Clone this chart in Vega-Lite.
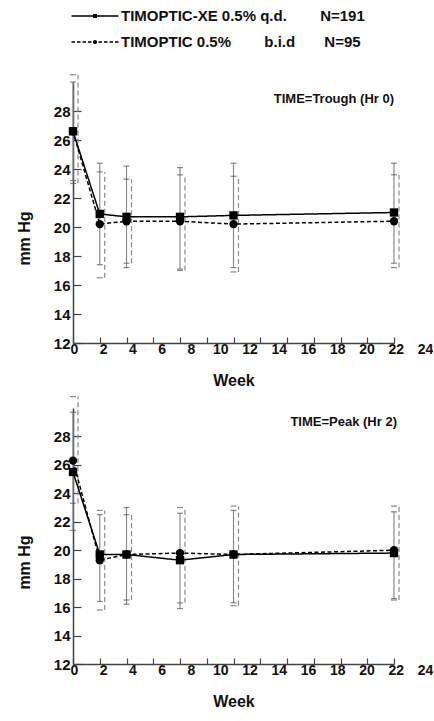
{
  "$schema": "https://vega.github.io/schema/vega-lite/v6.json",
  "padding": {"left": 16, "top": 5, "right": 0, "bottom": 0},
  "background": "white",
  "spacing": 8,
  "datasets": {
    "iop": [
      {"time": "Trough", "treatment": "XE", "week": 0, "mean": 26.6, "lower": 23.2, "upper": 30.0},
      {"time": "Trough", "treatment": "XE", "week": 2, "mean": 20.9, "lower": 17.4, "upper": 24.4},
      {"time": "Trough", "treatment": "XE", "week": 4, "mean": 20.7, "lower": 17.2, "upper": 24.2},
      {"time": "Trough", "treatment": "XE", "week": 8, "mean": 20.7, "lower": 17.1, "upper": 24.1},
      {"time": "Trough", "treatment": "XE", "week": 12, "mean": 20.8, "lower": 17.2, "upper": 24.4},
      {"time": "Trough", "treatment": "XE", "week": 24, "mean": 21.0, "lower": 17.5, "upper": 24.4},
      {"time": "Trough", "treatment": "TIM", "week": 0, "mean": 26.6, "lower": 23.0, "upper": 30.5},
      {"time": "Trough", "treatment": "TIM", "week": 2, "mean": 20.2, "lower": 16.5, "upper": 23.8},
      {"time": "Trough", "treatment": "TIM", "week": 4, "mean": 20.4, "lower": 17.5, "upper": 23.3},
      {"time": "Trough", "treatment": "TIM", "week": 8, "mean": 20.4, "lower": 17.0, "upper": 23.6},
      {"time": "Trough", "treatment": "TIM", "week": 12, "mean": 20.2, "lower": 16.9, "upper": 23.5},
      {"time": "Trough", "treatment": "TIM", "week": 24, "mean": 20.4, "lower": 17.2, "upper": 23.6},
      {"time": "Peak", "treatment": "XE", "week": 0, "mean": 25.5, "lower": 21.4, "upper": 29.7},
      {"time": "Peak", "treatment": "XE", "week": 2, "mean": 19.7, "lower": 16.4, "upper": 22.5},
      {"time": "Peak", "treatment": "XE", "week": 4, "mean": 19.7, "lower": 16.2, "upper": 23.0},
      {"time": "Peak", "treatment": "XE", "week": 8, "mean": 19.3, "lower": 15.9, "upper": 22.6},
      {"time": "Peak", "treatment": "XE", "week": 12, "mean": 19.7, "lower": 16.3, "upper": 22.8},
      {"time": "Peak", "treatment": "XE", "week": 24, "mean": 19.8, "lower": 16.6, "upper": 22.7},
      {"time": "Peak", "treatment": "TIM", "week": 0, "mean": 26.3, "lower": 23.3, "upper": 30.8},
      {"time": "Peak", "treatment": "TIM", "week": 2, "mean": 19.3, "lower": 15.8, "upper": 22.8},
      {"time": "Peak", "treatment": "TIM", "week": 4, "mean": 19.7, "lower": 16.5, "upper": 22.5},
      {"time": "Peak", "treatment": "TIM", "week": 8, "mean": 19.8, "lower": 16.3, "upper": 23.0},
      {"time": "Peak", "treatment": "TIM", "week": 12, "mean": 19.7, "lower": 16.1, "upper": 23.1},
      {"time": "Peak", "treatment": "TIM", "week": 24, "mean": 20.0, "lower": 16.5, "upper": 23.1}
    ],
    "notes": [
      {"time": "Trough", "note": "TIME=Trough (Hr 0)"},
      {"time": "Peak", "note": "TIME=Peak (Hr 2)"}
    ]
  },
  "vconcat": [
    {
      "width": 321,
      "height": 261,
      "data": {"name": "iop"},
      "transform": [{"filter": "datum.time == 'Trough'"}],
      "layer": [
        {
          "transform": [{"filter": "datum.week < 0"}],
          "mark": {"type": "point", "filled": true, "color": "black", "size": 400},
          "encoding": {
            "x": {"field": "week", "type": "quantitative", "title": "Week", "scale": {"domain": [0, 24], "nice": false, "zero": false},
              "axis": {"values": [0, 2, 4, 6, 8, 10, 12, 14, 16, 18, 20, 22, 24], "labelOverlap": false, "labelOffset": {"expr": "1 + 1.25 * datum.value"}}},
            "y": {"field": "mean", "type": "quantitative", "title": "mm Hg", "scale": {"domain": [12, 30], "nice": false, "zero": false},
              "axis": {"values": [12, 14, 16, 18, 20, 22, 24, 26, 28], "labelOverlap": false, "titleY": 156}},
            "shape": {
              "field": "treatment", "type": "nominal",
              "scale": {"domain": ["XE", "TIM"], "range": [
                "M-2.35,-0.075H-0.18V0.075H-2.35ZM0.18,-0.075H2.35V0.075H0.18ZM-0.2,-0.2H0.2V0.2H-0.2Z",
                "M-2.35,-0.07H-2.0V0.07H-2.35ZM-1.8,-0.07H-1.45V0.07H-1.8ZM-1.25,-0.07H-0.9V0.07H-1.25ZM-0.7,-0.07H-0.35V0.07H-0.7ZM0.35,-0.07H0.7V0.07H0.35ZM0.9,-0.07H1.25V0.07H0.9ZM1.45,-0.07H1.8V0.07H1.45ZM2.0,-0.07H2.35V0.07H2.0ZM-0.21,0A0.21,0.21 0 1,1 0.21,0A0.21,0.21 0 1,1 -0.21,0Z"
              ]},
              "legend": {
                "title": null,
                "orient": "none",
                "legendX": 11,
                "legendY": -77,
                "direction": "vertical",
                "padding": 0,
                "symbolSize": 400,
                "symbolFillColor": "black",
                "symbolOpacity": 1,
                "labelFont": "Liberation Sans",
                "labelFontSize": 15,
                "labelFontWeight": "bold",
                "labelColor": "#111",
                "labelOffset": 15,
                "labelLimit": 0,
                "rowPadding": 7,
                "labelExpr": "datum.value == 'XE' ? 'TIMOPTIC-XE 0.5% q.d.\u00a0\u00a0\u00a0\u00a0\u00a0\u00a0\u00a0\u00a0N=191' : 'TIMOPTIC 0.5%\u00a0\u00a0\u00a0\u00a0\u00a0\u00a0\u00a0\u00a0b.i.d\u00a0\u00a0\u00a0\u00a0\u00a0\u00a0\u00a0N=95'"
              }
            }
          }
        },
        {
          "transform": [{"filter": "datum.treatment == 'XE'"}],
          "mark": {"type": "rule", "color": "#8a8a8a", "strokeWidth": 1.2},
          "encoding": {
            "x": {"field": "week", "type": "quantitative", "title": "Week", "axis": {"values": [0, 2, 4, 6, 8, 10, 12, 14, 16, 18, 20, 22, 24], "labelOverlap": false, "labelOffset": {"expr": "1 + 1.25 * datum.value"}}},
            "y": {"field": "lower", "type": "quantitative", "title": "mm Hg", "axis": {"values": [12, 14, 16, 18, 20, 22, 24, 26, 28], "labelOverlap": false, "titleY": 156}},
            "y2": {"field": "upper"}
          }
        },
        {
          "transform": [{"filter": "datum.treatment == 'TIM'"}],
          "mark": {"type": "rule", "color": "#8a8a8a", "strokeWidth": 1.2, "strokeDash": [5, 3], "xOffset": 5},
          "encoding": {
            "x": {"field": "week", "type": "quantitative", "title": "Week", "axis": {"values": [0, 2, 4, 6, 8, 10, 12, 14, 16, 18, 20, 22, 24], "labelOverlap": false, "labelOffset": {"expr": "1 + 1.25 * datum.value"}}},
            "y": {"field": "lower", "type": "quantitative", "title": "mm Hg", "axis": {"values": [12, 14, 16, 18, 20, 22, 24, 26, 28], "labelOverlap": false, "titleY": 156}},
            "y2": {"field": "upper"}
          }
        },
        {
          "transform": [{"fold": ["lower", "upper"], "as": ["bound", "value"]}],
          "mark": {"type": "tick", "orient": "horizontal", "size": 6, "thickness": 1.2, "color": "#555"},
          "encoding": {
            "x": {"field": "week", "type": "quantitative", "title": "Week", "axis": {"values": [0, 2, 4, 6, 8, 10, 12, 14, 16, 18, 20, 22, 24], "labelOverlap": false, "labelOffset": {"expr": "1 + 1.25 * datum.value"}}},
            "y": {"field": "value", "type": "quantitative", "title": "mm Hg", "axis": {"values": [12, 14, 16, 18, 20, 22, 24, 26, 28], "labelOverlap": false, "titleY": 156}},
            "xOffset": {"condition": {"test": "datum.treatment == 'TIM'", "value": 5}, "value": 0}
          }
        },
        {
          "mark": {"type": "line", "color": "black", "strokeWidth": 1.5},
          "encoding": {
            "x": {"field": "week", "type": "quantitative", "title": "Week", "axis": {"values": [0, 2, 4, 6, 8, 10, 12, 14, 16, 18, 20, 22, 24], "labelOverlap": false, "labelOffset": {"expr": "1 + 1.25 * datum.value"}}},
            "y": {"field": "mean", "type": "quantitative", "title": "mm Hg", "axis": {"values": [12, 14, 16, 18, 20, 22, 24, 26, 28], "labelOverlap": false, "titleY": 156}},
            "detail": {"field": "treatment"},
            "strokeDash": {"field": "treatment", "type": "nominal", "scale": {"domain": ["XE", "TIM"], "range": [[1, 0], [4, 2.5]]}, "legend": null}
          }
        },
        {
          "transform": [{"filter": "datum.treatment == 'TIM'"}],
          "mark": {"type": "circle", "color": "black", "opacity": 1, "size": 70},
          "encoding": {
            "x": {"field": "week", "type": "quantitative", "title": "Week", "axis": {"values": [0, 2, 4, 6, 8, 10, 12, 14, 16, 18, 20, 22, 24], "labelOverlap": false, "labelOffset": {"expr": "1 + 1.25 * datum.value"}}},
            "y": {"field": "mean", "type": "quantitative", "title": "mm Hg", "axis": {"values": [12, 14, 16, 18, 20, 22, 24, 26, 28], "labelOverlap": false, "titleY": 156}}
          }
        },
        {
          "transform": [{"filter": "datum.treatment == 'XE'"}],
          "mark": {"type": "square", "color": "black", "opacity": 1, "size": 70},
          "encoding": {
            "x": {"field": "week", "type": "quantitative", "title": "Week", "axis": {"values": [0, 2, 4, 6, 8, 10, 12, 14, 16, 18, 20, 22, 24], "labelOverlap": false, "labelOffset": {"expr": "1 + 1.25 * datum.value"}}},
            "y": {"field": "mean", "type": "quantitative", "title": "mm Hg", "axis": {"values": [12, 14, 16, 18, 20, 22, 24, 26, 28], "labelOverlap": false, "titleY": 156}}
          }
        },
        {
          "data": {"name": "notes"},
          "transform": [{"filter": "datum.time == 'Trough'"}],
          "mark": {"type": "text", "align": "right", "baseline": "middle", "font": "Liberation Sans", "fontSize": 13, "fontWeight": "bold", "color": "#111"},
          "encoding": {
            "x": {"datum": 24, "type": "quantitative", "title": "Week", "axis": {"values": [0, 2, 4, 6, 8, 10, 12, 14, 16, 18, 20, 22, 24], "labelOverlap": false, "labelOffset": {"expr": "1 + 1.25 * datum.value"}}},
            "y": {"datum": 28.8, "type": "quantitative", "title": "mm Hg", "axis": {"values": [12, 14, 16, 18, 20, 22, 24, 26, 28], "labelOverlap": false, "titleY": 156}},
            "text": {"field": "note"}
          }
        }
      ]
    },
    {
      "width": 321,
      "height": 256,
      "data": {"name": "iop"},
      "transform": [{"filter": "datum.time == 'Peak'"}],
      "layer": [
        {
          "transform": [{"filter": "datum.treatment == 'XE'"}],
          "mark": {"type": "rule", "color": "#8a8a8a", "strokeWidth": 1.2},
          "encoding": {
            "x": {"field": "week", "type": "quantitative", "title": "Week", "scale": {"domain": [0, 24], "nice": false, "zero": false},
              "axis": {"values": [0, 2, 4, 6, 8, 10, 12, 14, 16, 18, 20, 22, 24], "labelOverlap": false, "labelOffset": {"expr": "1 + 1.25 * datum.value"}}},
            "y": {"field": "lower", "type": "quantitative", "title": "mm Hg", "scale": {"domain": [12, 30], "nice": false, "zero": false},
              "axis": {"values": [12, 14, 16, 18, 20, 22, 24, 26, 28], "labelOverlap": false, "titleY": 154}},
            "y2": {"field": "upper"}
          }
        },
        {
          "transform": [{"filter": "datum.treatment == 'TIM'"}],
          "mark": {"type": "rule", "color": "#8a8a8a", "strokeWidth": 1.2, "strokeDash": [5, 3], "xOffset": 5},
          "encoding": {
            "x": {"field": "week", "type": "quantitative", "title": "Week", "axis": {"values": [0, 2, 4, 6, 8, 10, 12, 14, 16, 18, 20, 22, 24], "labelOverlap": false, "labelOffset": {"expr": "1 + 1.25 * datum.value"}}},
            "y": {"field": "lower", "type": "quantitative", "title": "mm Hg", "axis": {"values": [12, 14, 16, 18, 20, 22, 24, 26, 28], "labelOverlap": false, "titleY": 154}},
            "y2": {"field": "upper"}
          }
        },
        {
          "transform": [{"fold": ["lower", "upper"], "as": ["bound", "value"]}],
          "mark": {"type": "tick", "orient": "horizontal", "size": 6, "thickness": 1.2, "color": "#555"},
          "encoding": {
            "x": {"field": "week", "type": "quantitative", "title": "Week", "axis": {"values": [0, 2, 4, 6, 8, 10, 12, 14, 16, 18, 20, 22, 24], "labelOverlap": false, "labelOffset": {"expr": "1 + 1.25 * datum.value"}}},
            "y": {"field": "value", "type": "quantitative", "title": "mm Hg", "axis": {"values": [12, 14, 16, 18, 20, 22, 24, 26, 28], "labelOverlap": false, "titleY": 154}},
            "xOffset": {"condition": {"test": "datum.treatment == 'TIM'", "value": 5}, "value": 0}
          }
        },
        {
          "mark": {"type": "line", "color": "black", "strokeWidth": 1.5},
          "encoding": {
            "x": {"field": "week", "type": "quantitative", "title": "Week", "axis": {"values": [0, 2, 4, 6, 8, 10, 12, 14, 16, 18, 20, 22, 24], "labelOverlap": false, "labelOffset": {"expr": "1 + 1.25 * datum.value"}}},
            "y": {"field": "mean", "type": "quantitative", "title": "mm Hg", "axis": {"values": [12, 14, 16, 18, 20, 22, 24, 26, 28], "labelOverlap": false, "titleY": 154}},
            "detail": {"field": "treatment"},
            "strokeDash": {"field": "treatment", "type": "nominal", "scale": {"domain": ["XE", "TIM"], "range": [[1, 0], [4, 2.5]]}, "legend": null}
          }
        },
        {
          "transform": [{"filter": "datum.treatment == 'TIM'"}],
          "mark": {"type": "circle", "color": "black", "opacity": 1, "size": 70},
          "encoding": {
            "x": {"field": "week", "type": "quantitative", "title": "Week", "axis": {"values": [0, 2, 4, 6, 8, 10, 12, 14, 16, 18, 20, 22, 24], "labelOverlap": false, "labelOffset": {"expr": "1 + 1.25 * datum.value"}}},
            "y": {"field": "mean", "type": "quantitative", "title": "mm Hg", "axis": {"values": [12, 14, 16, 18, 20, 22, 24, 26, 28], "labelOverlap": false, "titleY": 154}}
          }
        },
        {
          "transform": [{"filter": "datum.treatment == 'XE'"}],
          "mark": {"type": "square", "color": "black", "opacity": 1, "size": 70},
          "encoding": {
            "x": {"field": "week", "type": "quantitative", "title": "Week", "axis": {"values": [0, 2, 4, 6, 8, 10, 12, 14, 16, 18, 20, 22, 24], "labelOverlap": false, "labelOffset": {"expr": "1 + 1.25 * datum.value"}}},
            "y": {"field": "mean", "type": "quantitative", "title": "mm Hg", "axis": {"values": [12, 14, 16, 18, 20, 22, 24, 26, 28], "labelOverlap": false, "titleY": 154}}
          }
        },
        {
          "data": {"name": "notes"},
          "transform": [{"filter": "datum.time == 'Peak'"}],
          "mark": {"type": "text", "align": "right", "baseline": "middle", "dx": 3, "font": "Liberation Sans", "fontSize": 13, "fontWeight": "bold", "color": "#111"},
          "encoding": {
            "x": {"datum": 24, "type": "quantitative", "title": "Week", "axis": {"values": [0, 2, 4, 6, 8, 10, 12, 14, 16, 18, 20, 22, 24], "labelOverlap": false, "labelOffset": {"expr": "1 + 1.25 * datum.value"}}},
            "y": {"datum": 29.0, "type": "quantitative", "title": "mm Hg", "axis": {"values": [12, 14, 16, 18, 20, 22, 24, 26, 28], "labelOverlap": false, "titleY": 154}},
            "text": {"field": "note"}
          }
        }
      ]
    }
  ],
  "config": {
    "view": {"stroke": null},
    "axis": {
      "grid": false,
      "domainColor": "#444",
      "domainWidth": 1.5,
      "tickColor": "#444",
      "tickWidth": 1.2,
      "labelFont": "Liberation Sans",
      "labelFontWeight": "bold",
      "labelColor": "#111",
      "titleFont": "Liberation Sans",
      "titleFontWeight": "bold",
      "titleColor": "#111",
      "titleFontSize": 16,
      "labelFlush": false,
      "labelOverlap": false
    },
    "axisX": {"labelFontSize": 14, "tickSize": -6, "labelPadding": 5, "titleY": 29, "titleBaseline": "top"},
    "axisY": {"labelFontSize": 15, "tickSize": -8, "labelPadding": 11, "titleX": -49, "titleBaseline": "middle", "titleAngle": -90}
  }
}
